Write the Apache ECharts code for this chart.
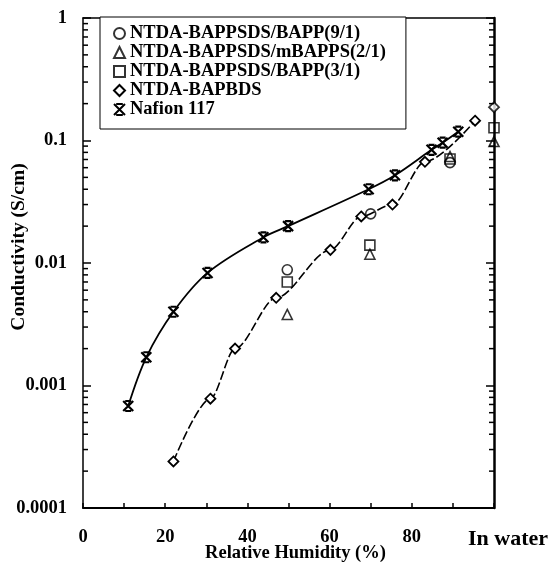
<!DOCTYPE html>
<html>
<head>
<meta charset="utf-8">
<script src="https://cdn.jsdelivr.net/npm/echarts@6/dist/echarts.min.js"></script>
<style>
  html, body { margin: 0; padding: 0; background: #fff; }
  #chart { width: 553px; height: 567px; }
</style>
</head>
<body>
<div id="chart"></div>
<script>
// Nafion 117
const nafionRH = [11, 15.4, 22, 30.3, 43.9, 49.9, 69.5, 75.9, 84.8, 87.5, 91.3]
const nafionSigma = [0.00068, 0.0017, 0.0040, 0.0083, 0.0162, 0.020, 0.040, 0.052, 0.084, 0.096, 0.118]
// NTDA-BAPBDS
const bdsRH = [22, 31, 37, 47, 60.2, 67.7, 75.3, 83.2, 95.4]
const bdsSigma = [0.00024, 0.00078, 0.0020, 0.0052, 0.0128, 0.024, 0.030, 0.067, 0.145]
const bdsWater = 0.187
// NTDA-BAPPSDS/BAPP(9/1)
const c91RH = [49.7, 70, 89.3]
const c91Sigma = [0.0088, 0.0252, 0.066]
// NTDA-BAPPSDS/mBAPPS(2/1)
const m21RH = [49.7, 69.8, 89.3, 100]
const m21Sigma = [0.0038, 0.0118, 0.074, 0.098]
// NTDA-BAPPSDS/BAPP(3/1)
const b31RH = [49.7, 69.8, 89.3, 100]
const b31Sigma = [0.0070, 0.014, 0.0707, 0.127]

const xLabels = { 0: '0', 20: '20', 40: '40', 60: '60', 80: '80', 100: 'In water' }
const decades = [0.0001, 0.001, 0.01, 0.1]

const FONT = 'Liberation Serif'
const pairs = (xs, ys) => xs.map((x, i) => [x, ys[i]])

// minor ticks 2..9 in each decade, drawn on both y axes
const minorTicks = []
decades.forEach(d => { for (let k = 2; k <= 9; k++) minorTicks.push([50, k * d]) })

const asterisk = 'path://M0,0L10,10M10,0L0,10M2,0L8,0M2,10L8,10'
const markStyle = { color: 'rgba(255,255,255,0)', borderColor: '#000', borderWidth: 1.6 }

const chart = echarts.init(document.getElementById('chart'))
chart.setOption({
  animation: false,
  backgroundColor: '#fff',
  grid: { left: 83, right: 59, top: 18, bottom: 59, containLabel: false, outerBoundsMode: 'none' },
  legend: {
    orient: 'vertical',
    left: 100,
    top: 17,
    padding: [7, 20, 10, 13],
    itemGap: 0,
    itemWidth: 11,
    itemHeight: 11,
    borderColor: '#000',
    borderWidth: 1,
    backgroundColor: '#fff',
    textStyle: { fontFamily: FONT, fontWeight: 'bold', fontSize: 18.5, lineHeight: 17, color: '#000' },
    data: [
      { name: 'NTDA-BAPPSDS/BAPP(9/1)', icon: 'circle' },
      { name: 'NTDA-BAPPSDS/mBAPPS(2/1)', icon: 'triangle' },
      { name: 'NTDA-BAPPSDS/BAPP(3/1)', icon: 'rect' },
      { name: 'NTDA-BAPBDS', icon: 'diamond' },
      { name: 'Nafion 117', icon: asterisk }
    ]
  },
  xAxis: [{
    type: 'value', min: 0, max: 100, interval: 10,
    name: 'Relative Humidity (%)', nameLocation: 'middle', nameGap: 36,
    nameMoveOverlap: false,
    nameTextStyle: { fontFamily: FONT, fontWeight: 'bold', fontSize: 18.5, color: '#000', padding: [0, 0, 0, 14] },
    axisLine: { onZero: false, lineStyle: { color: '#000', width: 2 } },
    axisTick: { inside: true, length: 5, lineStyle: { color: '#000', width: 1.5 } },
    splitLine: { show: false },
    axisLabel: {
      margin: 20,
      fontFamily: FONT, fontWeight: 'bold', fontSize: 18.5, color: '#000',
      formatter: v => {
        if (v === 100) return '{w|In water}'
        return xLabels[v] !== undefined ? xLabels[v] : ''
      },
      rich: { w: { fontFamily: FONT, fontWeight: 'bold', fontSize: 22, color: '#000', padding: [0, 0, 0, 28] } }
    }
  }, {
    type: 'value', min: 0, max: 100, position: 'top',
    axisLine: { show: true, onZero: false, lineStyle: { color: '#000', width: 1.5 } },
    axisTick: { show: false }, axisLabel: { show: false }, splitLine: { show: false }
  }],
  yAxis: [{
    type: 'log', logBase: 10, min: 0.0001, max: 1,
    name: 'Conductivity (S/cm)', nameLocation: 'middle', nameGap: 54,
    nameMoveOverlap: false,
    nameTextStyle: { fontFamily: FONT, fontWeight: 'bold', fontSize: 19.5, color: '#000', padding: [0, 0, 0, 32] },
    axisLine: { show: true, onZero: false, lineStyle: { color: '#000', width: 1.5 } },
    axisTick: { inside: true, length: 8, lineStyle: { color: '#000', width: 1.5 } },
    splitLine: { show: false },
    axisLabel: {
      margin: 16,
      fontFamily: FONT, fontWeight: 'bold', fontSize: 18.5, color: '#000',
      formatter: v => String(+(+v).toPrecision(1))
    }
  }, {
    type: 'log', logBase: 10, min: 0.0001, max: 1, position: 'right',
    axisLine: { show: true, onZero: false, lineStyle: { color: '#000', width: 2.5 } },
    axisTick: { inside: true, length: 8, lineStyle: { color: '#000', width: 1.5 } },
    axisLabel: { show: false }, splitLine: { show: false }
  }],
  series: [
    {
      name: 'Nafion 117', type: 'line', smooth: 0.35,
      data: pairs(nafionRH, nafionSigma),
      symbol: asterisk, symbolSize: 10,
      itemStyle: { color: 'rgba(255,255,255,0)', borderColor: '#000', borderWidth: 2.2 },
      lineStyle: { color: '#000', width: 1.8 },
      z: 3
    },
    {
      name: 'NTDA-BAPBDS', type: 'line', smooth: 0.3, smoothMonotone: 'x',
      data: pairs(bdsRH, bdsSigma),
      symbol: 'diamond', symbolSize: 10,
      itemStyle: { color: '#fff', borderColor: '#000', borderWidth: 1.8 },
      lineStyle: { color: '#000', width: 1.6, type: [9, 3] },
      z: 3
    },
    {
      name: 'NTDA-BAPBDS', type: 'scatter',
      data: [[100, bdsWater]],
      symbol: 'diamond', symbolSize: 10,
      itemStyle: { color: '#fff', borderColor: '#000', borderWidth: 1.8 },
      z: 4
    },
    {
      name: 'NTDA-BAPPSDS/BAPP(9/1)', type: 'scatter',
      data: pairs(c91RH, c91Sigma),
      symbol: 'circle', symbolSize: 10,
      itemStyle: markStyle, z: 4
    },
    {
      name: 'NTDA-BAPPSDS/mBAPPS(2/1)', type: 'scatter',
      data: pairs(m21RH, m21Sigma),
      symbol: 'triangle', symbolSize: 10,
      itemStyle: markStyle, z: 4
    },
    {
      name: 'NTDA-BAPPSDS/BAPP(3/1)', type: 'scatter',
      data: pairs(b31RH, b31Sigma),
      symbol: 'rect', symbolSize: 10,
      itemStyle: markStyle, z: 4
    },
    {
      name: 'minor ticks', type: 'custom', z: 10, clip: false,
      data: minorTicks,
      encode: { x: 0, y: 1 },
      renderItem: (params, api) => {
        const y = api.coord([api.value(0), api.value(1)])[1]
        const xl = params.coordSys.x
        const xr = params.coordSys.x + params.coordSys.width
        const style = { stroke: '#000', lineWidth: 1.5 }
        return {
          type: 'group',
          children: [
            { type: 'line', shape: { x1: xl, y1: y, x2: xl + 5, y2: y }, style },
            { type: 'line', shape: { x1: xr, y1: y, x2: xr - 5, y2: y }, style }
          ]
        }
      }
    }
  ]
})
</script>
</body>
</html>
